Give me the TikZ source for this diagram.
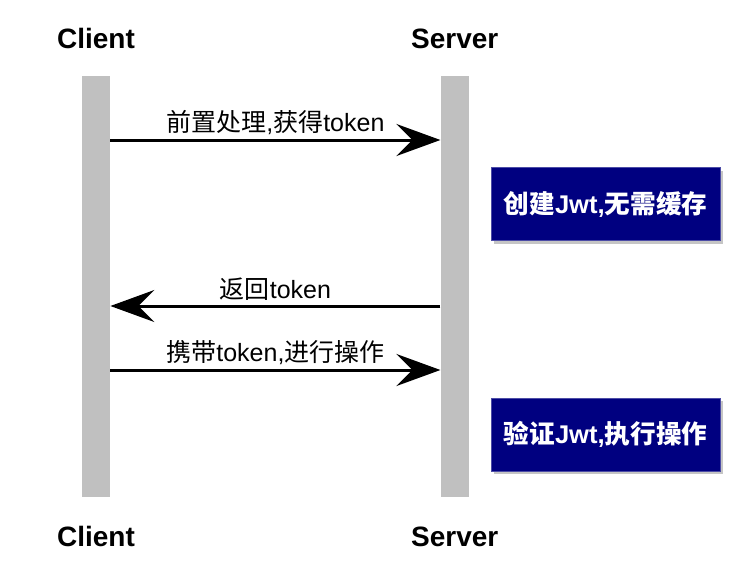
\documentclass[tikz,border=0pt]{standalone}
\usepackage{fontspec}
\setmainfont{Liberation Sans}
\newfontfamily\cjkfont{Noto Sans CJK SC}
\usetikzlibrary{arrows.meta}
\usetikzlibrary{positioning}
\usetikzlibrary{shadows}
\definecolor{lifegray}{RGB}{192,192,192}
\definecolor{notenavy}{RGB}{0,0,128}
\tikzset{
  % lifeline bar
  lifeline/.style = {
    fill = lifegray,
    minimum width = 14pt,
    minimum height = 210.5pt,
    inner sep = 0
  },
  % actor name
  actor/.style = {
    font = \fontsize{14}{16}\selectfont\bfseries
  },
  % message arrow
  msg/.style = {
    draw = black,
    line width = 1.5pt,
    -{Stealth[length=22pt, width=16pt, inset=8pt]}
  },
  % message text
  msgtext/.style = {
    font = \fontsize{12.5}{14}\selectfont,
    inner sep = 2pt
  },
  % note on the server side
  note/.style = {
    fill = notenavy,
    draw = notenavy!70!white,
    line width = 0.4pt,
    minimum width = 114.5pt,
    minimum height = 36.5pt,
    text = white,
    font = \fontsize{12.8}{14}\selectfont\bfseries,
    drop shadow = {shadow xshift = 1.5pt, shadow yshift = -1.5pt, fill = black!45}
  }
}

\begin{document}
\begin{tikzpicture}[x=0.5pt, y=-0.5pt]
    \useasboundingbox (0,0) rectangle (754,568);

    \node[lifeline] (cbar) at (96,286.5) {};
    \node[lifeline] (sbar) [right=165pt of cbar] {};

    \node[actor] (ctop) [above=10pt of cbar] {Client};
    \node[actor] (stop) [above=10pt of sbar] {Server};
    \node[actor] (cbot) [below=11pt of cbar] {Client};
    \node[actor] (sbot) [below=11pt of sbar] {Server};

    \coordinate (m1) at (0,140);
    \coordinate (m2) at (0,306);
    \coordinate (m3) at (0,370);

    \draw[msg] (cbar.east |- m1) -- (sbar.west |- m1)
      node[msgtext, midway, above] {{\cjkfont 前置处理},{\cjkfont 获得}token};
    \draw[msg] (sbar.west |- m2) -- (cbar.east |- m2)
      node[msgtext, midway, above] {{\cjkfont 返回}token};
    \draw[msg] (cbar.east |- m3) -- (sbar.west |- m3)
      node[msgtext, midway, above] {{\cjkfont 携带}token,{\cjkfont 进行操作}};

    \node[note] (create) at (605.5,204) {{\cjkfont\bfseries 创建}Jwt,{\cjkfont\bfseries 无需缓存}};
    \node[note] (verify) at (605.5,434.5) {{\cjkfont\bfseries 验证}Jwt,{\cjkfont\bfseries 执行操作}};
\end{tikzpicture}
\end{document}
